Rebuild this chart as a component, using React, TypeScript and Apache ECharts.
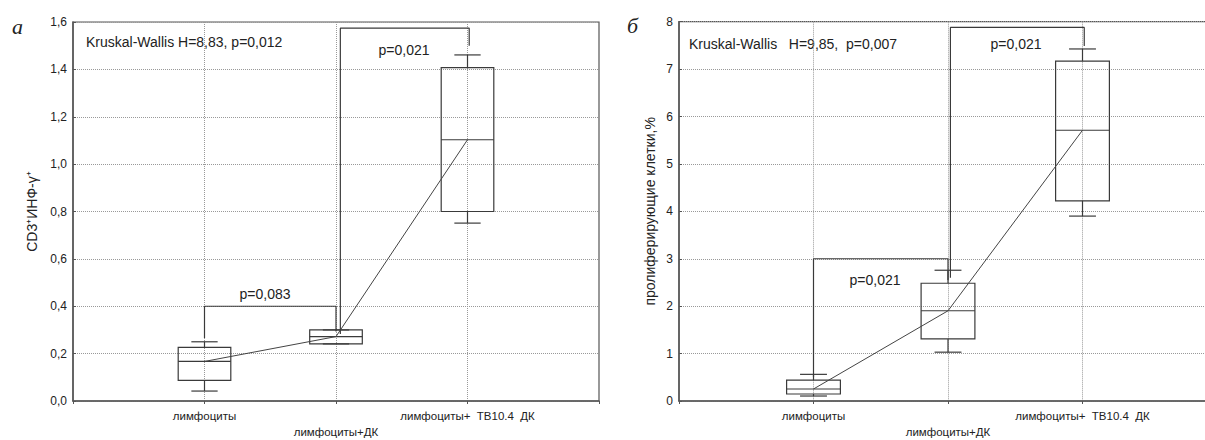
import React, { useEffect, useRef } from "react";
import * as echarts from "echarts";

// Categories, placed at x = 1, 2, 3 on a 0..4 axis
const categories = ["лимфоциты", "лимфоциты+ДК", "лимфоциты+  ТВ10.4  ДК"];
const categoryPositions = [1, 2, 3];

// [min, Q1, median, Q3, max]
const leftStats = [
  [0.042, 0.087, 0.167, 0.226, 0.25],
  [0.241, 0.241, 0.272, 0.3, 0.3],
  [0.751, 0.8, 1.103, 1.407, 1.461],
];
const rightStats = [
  [0.105, 0.148, 0.253, 0.44, 0.562],
  [1.03, 1.31, 1.903, 2.484, 2.758],
  [3.9, 4.22, 5.71, 7.17, 7.425],
];

// Significance brackets (data coordinates)
const leftBracketA = [[1, 0.266], [1, 0.4], [2, 0.4], [2, 0.293]];
const leftBracketB = [[2.033, 0.283], [2.033, 1.574], [3.013, 1.574], [3.013, 1.5]];
const rightBracketA = [[1, 0.5], [1, 3.0], [2, 3.0], [2, 2.55]];
const rightBracketB = [[2.018, 2.6], [2.018, 7.88], [3.013, 7.88], [3.013, 7.49]];

const leftTitle = "Kruskal-Wallis H=8,83, p=0,012";
const rightTitle = "Kruskal-Wallis   H=9,85,  p=0,007";
const leftYName = "CD3⁺ИНФ-γ⁺";
const rightYName = "пролиферирующие клетки,%";

const FONT = "Liberation Sans, Arial, sans-serif";
const DARK = "#3a3a3a";
const W = 1220;

const renderBox = (params: any, api: any) => {
  const x = api.value(0);
  const mn = api.coord([x, api.value(1)]);
  const q1 = api.coord([x, api.value(2)]);
  const md = api.coord([x, api.value(3)]);
  const q3 = api.coord([x, api.value(4)]);
  const mx = api.coord([x, api.value(5)]);
  const band = api.size([1, 0])[0];
  const hw = band * 0.2;
  const cw = band * 0.1;
  const cx = mn[0];
  const style = { stroke: DARK, lineWidth: 1.2, fill: "none" };
  return {
    type: "group",
    children: [
      { type: "line", shape: { x1: cx, y1: mx[1], x2: cx, y2: q3[1] }, style },
      { type: "line", shape: { x1: cx - cw, y1: mx[1], x2: cx + cw, y2: mx[1] }, style },
      { type: "line", shape: { x1: cx, y1: q1[1], x2: cx, y2: mn[1] }, style },
      { type: "line", shape: { x1: cx - cw, y1: mn[1], x2: cx + cw, y2: mn[1] }, style },
      { type: "rect", shape: { x: cx - hw, y: q3[1], width: 2 * hw, height: q1[1] - q3[1] }, style },
      { type: "line", shape: { x1: cx - hw, y1: md[1], x2: cx + hw, y2: md[1] }, style },
    ],
  };
};

const xAxisCommon = (gridIndex: number) => ({
  type: "value",
  gridIndex,
  min: 0,
  max: 4,
  interval: 1,
  axisLine: { show: true, lineStyle: { color: "#555", width: 1.5 } },
  axisTick: { show: true, length: 3, lineStyle: { color: "#555" } },
  splitLine: { show: true, lineStyle: { color: "#999", type: [1, 1], width: 1 } },
  axisLabel: {
    margin: 7,
    fontFamily: FONT,
    fontSize: 11.5,
    color: "#222",
    lineHeight: 16,
    formatter: (v: number) => {
      const i = categoryPositions.indexOf(v);
      if (i < 0) return "";
      return i === 1 ? "\n" + categories[i] : categories[i];
    },
  },
});

const yAxisCommon = (gridIndex: number) => ({
  type: "value",
  gridIndex,
  nameLocation: "middle",
  nameRotate: 90,
  nameTextStyle: { fontFamily: FONT, fontSize: 14, color: "#222" },
  axisLine: { show: true, lineStyle: { color: "#555", width: 1.5 } },
  axisTick: { show: true, inside: true, length: 3, lineStyle: { color: "#555" } },
  splitLine: { show: true, lineStyle: { color: "#999", type: [1, 1], width: 1 } },
});

export default function App() {
  const ref = useRef<HTMLDivElement>(null);
  useEffect(() => {
    document.body.style.margin = "0";
    document.body.style.overflow = "hidden";
    const chart = echarts.init(ref.current!, null, { renderer: "svg" });
    const boxData = (stats: number[][]) => stats.map((s, i) => [categoryPositions[i], ...s]);
    const medianLine = (stats: number[][]) => stats.map((s, i) => [categoryPositions[i], s[2]]);
    const lineSeries = (data: number[][], idx: number, color: string, width: number) => ({
      type: "line",
      xAxisIndex: idx,
      yAxisIndex: idx,
      data,
      symbol: "none",
      silent: true,
      lineStyle: { color, width },
    });
    chart.setOption({
      animation: false,
      grid: [
        { left: 73, top: 22, right: W - 599, bottom: 37.3, show: true, borderColor: "#555", borderWidth: 1.2 },
        { left: 679, top: 21.7, right: W - 1218, bottom: 38.3, show: true, borderColor: "#555", borderWidth: 1.2 },
      ],
      xAxis: [xAxisCommon(0), xAxisCommon(1)],
      yAxis: [
        {
          ...yAxisCommon(0),
          min: 0,
          max: 1.6,
          interval: 0.2,
          name: leftYName,
          nameGap: 34,
          axisLabel: {
            margin: 6,
            fontFamily: FONT,
            fontSize: 12,
            color: "#222",
            formatter: (v: number) => v.toFixed(1).replace(".", ","),
          },
        },
        {
          ...yAxisCommon(1),
          min: 0,
          max: 8,
          interval: 1,
          name: rightYName,
          nameGap: 22,
          axisLabel: { margin: 6, fontFamily: FONT, fontSize: 12, color: "#222" },
        },
      ],
      series: [
        lineSeries(medianLine(leftStats), 0, "#444", 1),
        lineSeries(medianLine(rightStats), 1, "#444", 1),
        lineSeries(leftBracketA, 0, DARK, 1.2),
        lineSeries(leftBracketB, 0, DARK, 1.2),
        lineSeries(rightBracketA, 1, DARK, 1.2),
        lineSeries(rightBracketB, 1, DARK, 1.2),
        {
          type: "custom",
          xAxisIndex: 0,
          yAxisIndex: 0,
          renderItem: renderBox,
          data: boxData(leftStats),
          encode: { x: 0, y: [1, 2, 3, 4, 5] },
          silent: true,
        },
        {
          type: "custom",
          xAxisIndex: 1,
          yAxisIndex: 1,
          renderItem: renderBox,
          data: boxData(rightStats),
          encode: { x: 0, y: [1, 2, 3, 4, 5] },
          silent: true,
        },
      ],
      graphic: [
        { type: "text", x: 12, y: 26, style: { text: "а", font: "italic 22px 'Liberation Serif', serif", fill: "#222", verticalAlign: "middle" } },
        { type: "text", x: 627, y: 25, style: { text: "б", font: "italic 22px 'Liberation Serif', serif", fill: "#222", verticalAlign: "middle" } },
        { type: "text", x: 86, y: 42, style: { text: leftTitle, font: `14px ${FONT}`, fill: "#222", verticalAlign: "middle" } },
        { type: "text", x: 689, y: 44, style: { text: rightTitle, font: `14px ${FONT}`, fill: "#222", verticalAlign: "middle" } },
        { type: "text", x: 265, y: 294, style: { text: "p=0,083", font: `14px ${FONT}`, fill: "#222", align: "center", verticalAlign: "middle" } },
        { type: "text", x: 404, y: 50, style: { text: "p=0,021", font: `14px ${FONT}`, fill: "#222", align: "center", verticalAlign: "middle" } },
        { type: "text", x: 875, y: 280, style: { text: "p=0,021", font: `14px ${FONT}`, fill: "#222", align: "center", verticalAlign: "middle" } },
        { type: "text", x: 1016, y: 44, style: { text: "p=0,021", font: `14px ${FONT}`, fill: "#222", align: "center", verticalAlign: "middle" } },
      ],
    });
    return () => chart.dispose();
  }, []);
  return <div ref={ref} style={{ position: "absolute", left: 0, top: 0, width: W, height: 440 }} />;
}
